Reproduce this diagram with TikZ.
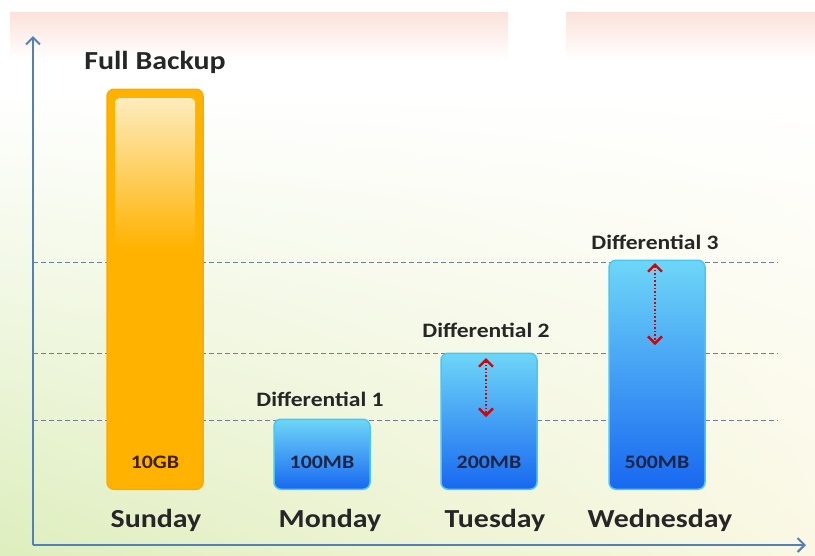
\documentclass[tikz,border=0pt]{standalone}
\usepackage{fontspec}
\setmainfont{Carlito}[FakeStretch=1.15]
\usetikzlibrary{arrows.meta,shadings}

\definecolor{axisblue}{RGB}{84,128,184}
\definecolor{gridgray}{RGB}{110,125,155}
\definecolor{barorange}{RGB}{255,178,0}
\definecolor{barlight}{RGB}{253,236,190}
\definecolor{bluetop}{RGB}{110,214,248}
\definecolor{bluebot}{RGB}{24,104,240}
\definecolor{blueedge}{RGB}{70,200,242}
\definecolor{valtext}{RGB}{30,36,70}
\definecolor{pinkband}{RGB}{251,226,220}
\definecolor{bggreen}{RGB}{222,238,190}
\definecolor{bgyellow}{RGB}{250,248,228}

\tikzset{
  bar/.style={rounded corners=7pt, line width=1.5pt, anchor=south, inner sep=0pt, minimum width=96pt},
  sunbar/.style={bar, fill=barorange, draw=barorange!95!red},
  diffbar/.style={bar, draw=blueedge, top color=bluetop, bottom color=bluebot},
  daylbl/.style={font=\fontsize{26}{28}\selectfont\bfseries, text=black!85},
  difflbl/.style={font=\fontsize{20.5}{22}\selectfont\bfseries, text=black!85},
  vallbl/.style={font=\fontsize{19}{21}\selectfont\bfseries, text=valtext},
  gridline/.style={gridgray, dash pattern=on 5pt off 3pt, line width=0.9pt},
  axisline/.style={axisblue, line width=2.5pt, -{Straight Barb[length=7pt, width=14pt, line width=2pt]}},
  growarrow/.style={red!85!black, dotted, line width=1.6pt, {Straight Barb[length=7pt, width=14pt, line width=2.4pt]}-{Straight Barb[length=7pt, width=14pt, line width=2.4pt]}}
}

\begin{document}
\begin{tikzpicture}[x=1pt, y=-1pt]
\useasboundingbox (0,0) rectangle (815,555);

% background
\fill[white] (0,0) rectangle (815,555);
\shade[lower left=bggreen, lower right=bgyellow, upper left=white, upper right=white] (0,90) rectangle (815,555);
\shade[top color=pinkband, bottom color=white] (10,12) rectangle (508,60);
\shade[top color=pinkband, bottom color=white] (566,12) rectangle (815,60);

% grid lines
\foreach \y in {262,353,420}
  \draw[gridline] (33,\y) -- (778,\y);

% axes
\coordinate (o) at (33,545);
\coordinate (ytop) at (33,36);
\coordinate (xend) at (806,545);
\draw[axisline, line width=2pt] (o) -- (ytop);
\draw[axisline] (o) -- (xend);

% bars
\node[sunbar, minimum height=400pt] (sun) at (155,490) {};
\node[rounded corners=4pt, inner sep=0pt, anchor=north, minimum width=80pt, minimum height=150pt,
      top color=barlight, bottom color=barorange] (sunhl) at (155,98) {};
\node[diffbar, minimum height=70pt] (mon) at (322,490) {};
\node[diffbar, minimum height=136pt] (tue) at (489,490) {};
\node[diffbar, minimum height=229pt] (wed) at (657,490) {};

% values
\node[vallbl, text=black!75!orange] (v1) at (155,462) {10GB};
\node[vallbl] (v2) at (322,462) {100MB};
\node[vallbl] (v3) at (489,462) {200MB};
\node[vallbl] (v4) at (657,462) {500MB};

% titles
\node[daylbl] (full) at (155,62) {Full Backup};
\node[difflbl] (d1) at (320,399) {Differential 1};
\node[difflbl] (d2) at (486,330) {Differential 2};
\node[difflbl] (d3) at (655,242) {Differential 3};

% days
\node[daylbl] (sunday) at (156,520) {Sunday};
\node[daylbl] (monday) at (330,520) {Monday};
\node[daylbl] (tuesday) at (495,520) {Tuesday};
\node[daylbl] (wednesday) at (660,520) {Wednesday};

% growth arrows
\coordinate (t1) at (486,358);
\coordinate (t2) at (486,417);
\coordinate (w1) at (655,263);
\coordinate (w2) at (655,345);
\draw[growarrow] (t1) -- (t2);
\draw[growarrow] (w1) -- (w2);
\end{tikzpicture}
\end{document}
